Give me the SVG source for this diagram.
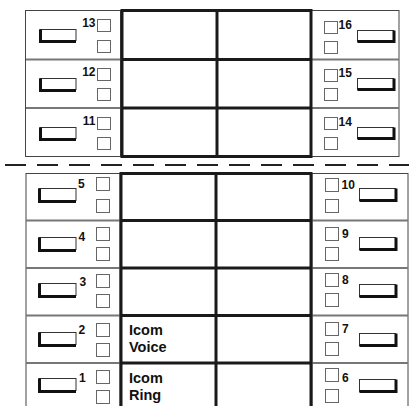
<svg xmlns="http://www.w3.org/2000/svg" width="409" height="406" viewBox="0 0 409 406">
<style>
.side{fill:#fff;stroke:#444;stroke-width:1}
.sep{stroke:#777;stroke-width:2;fill:none}
.thick{stroke:#1a1a1a;stroke-width:3;fill:none}
.sq{fill:#fff;stroke:#666;stroke-width:1}
.btn{fill:#fff;stroke:#333;stroke-width:1}
.sh{fill:none;stroke:#111;stroke-width:3}
.num{font-family:"Liberation Sans",Arial,sans-serif;font-weight:bold;font-size:12px;fill:#111}
.lbl{font-family:"Liberation Sans",Arial,sans-serif;font-weight:bold;font-size:14.5px;fill:#111}
.dash{stroke:#222;stroke-width:2;stroke-dasharray:21 11;fill:none}
</style>
<rect width="409" height="406" fill="#fff"/>

<!-- side boxes -->
<g id="frames">
<rect class="side" x="25.5" y="10.5" width="95" height="146"/>
<line class="sep" x1="26" y1="59.5" x2="120" y2="59.5"/>
<line class="sep" x1="26" y1="108" x2="120" y2="108"/>
<rect class="side" x="311.5" y="10.5" width="87.5" height="146"/>
<line class="sep" x1="312" y1="59.5" x2="399" y2="59.5"/>
<line class="sep" x1="312" y1="108" x2="399" y2="108"/>
<rect class="side" x="26" y="173.5" width="94" height="240"/>
<line class="sep" x1="26" y1="220.5" x2="120" y2="220.5"/>
<line class="sep" x1="26" y1="268" x2="120" y2="268"/>
<line class="sep" x1="26" y1="315.5" x2="120" y2="315.5"/>
<line class="sep" x1="26" y1="363" x2="120" y2="363"/>
<rect class="side" x="312" y="173.5" width="96" height="240"/>
<line class="sep" x1="312" y1="220.5" x2="408" y2="220.5"/>
<line class="sep" x1="312" y1="268" x2="408" y2="268"/>
<line class="sep" x1="312" y1="315.5" x2="408" y2="315.5"/>
<line class="sep" x1="312" y1="363" x2="408" y2="363"/>
</g>

<!-- center grids -->
<g id="center-top">
<rect class="thick" x="122" y="10.5" width="189" height="146"/>
<line class="thick" x1="122" y1="59.5" x2="311" y2="59.5"/>
<line class="thick" x1="122" y1="108" x2="311" y2="108"/>
<line class="thick" x1="217" y1="10.5" x2="217" y2="156.5"/>
</g>
<g id="center-bottom">
<line class="thick" x1="121" y1="172" x2="121" y2="410"/>
<line class="thick" x1="216" y1="172" x2="216" y2="410"/>
<line class="thick" x1="311" y1="172" x2="311" y2="410"/>
<line class="thick" x1="121" y1="173.5" x2="311" y2="173.5"/>
<line class="thick" x1="121" y1="220.5" x2="311" y2="220.5"/>
<line class="thick" x1="121" y1="268" x2="311" y2="268"/>
<line class="thick" x1="121" y1="315.5" x2="311" y2="315.5"/>
<line class="thick" x1="121" y1="363" x2="311" y2="363"/>
<text class="lbl"><tspan x="129" y="335">Icom</tspan><tspan x="129" y="351.5">Voice</tspan></text>
<text class="lbl"><tspan x="129" y="383">Icom</tspan><tspan x="129" y="399.5">Ring</tspan></text>
</g>

<g id="connectors">
<line class="dash" x1="5" y1="165" x2="409" y2="165"/>
</g>

<!-- left top rows -->
<g id="key13"><rect class="btn" x="40" y="29.5" width="36" height="11"/><path class="sh" d="M40.5 29.5V41.5H76"/><text class="num" x="95.5" y="27" text-anchor="end">13</text><rect class="sq" x="97.5" y="19.5" width="13" height="12"/><rect class="sq" x="97.5" y="40.5" width="13" height="12"/></g>
<g id="key12"><rect class="btn" x="40" y="78.5" width="36" height="11"/><path class="sh" d="M40.5 78.5V90.5H76"/><text class="num" x="95.5" y="76" text-anchor="end">12</text><rect class="sq" x="97.5" y="68.5" width="13" height="12"/><rect class="sq" x="97.5" y="88.5" width="13" height="12"/></g>
<g id="key11"><rect class="btn" x="40" y="127.5" width="36" height="11"/><path class="sh" d="M40.5 127.5V139.5H76"/><text class="num" x="95.5" y="125" text-anchor="end">11</text><rect class="sq" x="97.5" y="117.5" width="13" height="12"/><rect class="sq" x="97.5" y="137.5" width="13" height="12"/></g>

<!-- right top rows -->
<g id="key16"><rect class="sq" x="324.5" y="21.5" width="13" height="12"/><rect class="sq" x="324.5" y="41.5" width="13" height="12"/><text class="num" x="338.5" y="28.5">16</text><rect class="btn" x="357.5" y="30.5" width="36" height="11"/><path class="sh" d="M357.5 41.5H394V30.5"/></g>
<g id="key15"><rect class="sq" x="324.5" y="69.5" width="13" height="12"/><rect class="sq" x="324.5" y="88.5" width="13" height="12"/><text class="num" x="338.5" y="76.5">15</text><rect class="btn" x="357.5" y="78.5" width="36" height="11"/><path class="sh" d="M357.5 89.5H394V78.5"/></g>
<g id="key14"><rect class="sq" x="324.5" y="117.5" width="13" height="12"/><rect class="sq" x="324.5" y="137.5" width="13" height="12"/><text class="num" x="338.5" y="125.5">14</text><rect class="btn" x="357.5" y="127.5" width="36" height="11"/><path class="sh" d="M357.5 138.5H394V127.5"/></g>

<!-- left bottom rows -->
<g id="key5"><rect class="btn" x="39" y="188.5" width="37" height="12"/><path class="sh" d="M39.5 188.5V201.5H76"/><text class="num" x="78" y="187.5">5</text><rect class="sq" x="96.5" y="177.5" width="13" height="13"/><rect class="sq" x="96.5" y="199.5" width="13" height="13"/></g>
<g id="key4"><rect class="btn" x="39" y="237.5" width="37" height="12"/><path class="sh" d="M39.5 237.5V250.5H76"/><text class="num" x="78.5" y="240.5">4</text><rect class="sq" x="96.5" y="227.5" width="13" height="13"/><rect class="sq" x="96.5" y="247.5" width="13" height="13"/></g>
<g id="key3"><rect class="btn" x="39" y="283.5" width="37" height="12"/><path class="sh" d="M39.5 283.5V296.5H76"/><text class="num" x="79.5" y="285.5">3</text><rect class="sq" x="96.5" y="274.5" width="13" height="13"/><rect class="sq" x="96.5" y="294.5" width="13" height="13"/></g>
<g id="key2"><rect class="btn" x="39" y="332.5" width="37" height="12"/><path class="sh" d="M39.5 332.5V345.5H76"/><text class="num" x="78.5" y="333.5">2</text><rect class="sq" x="96.5" y="323.5" width="13" height="13"/><rect class="sq" x="96.5" y="343.5" width="13" height="13"/></g>
<g id="key1"><rect class="btn" x="39" y="378.5" width="37" height="12"/><path class="sh" d="M39.5 378.5V391.5H76"/><text class="num" x="79" y="381.5">1</text><rect class="sq" x="96.5" y="370.5" width="13" height="13"/><rect class="sq" x="96.5" y="390.5" width="13" height="13"/></g>

<!-- right bottom rows -->
<g id="key10"><rect class="sq" x="325.5" y="178.5" width="13" height="13"/><rect class="sq" x="325.5" y="199.5" width="13" height="13"/><text class="num" x="341.5" y="188.5">10</text><rect class="btn" x="359.5" y="188.5" width="36" height="12"/><path class="sh" d="M359.5 200.5H396V188.5"/></g>
<g id="key9"><rect class="sq" x="325.5" y="227.5" width="13" height="13"/><rect class="sq" x="325.5" y="247.5" width="13" height="13"/><text class="num" x="342" y="237.5">9</text><rect class="btn" x="359.5" y="237.5" width="36" height="12"/><path class="sh" d="M359.5 249.5H396V237.5"/></g>
<g id="key8"><rect class="sq" x="325.5" y="273.5" width="13" height="13"/><rect class="sq" x="325.5" y="293.5" width="13" height="13"/><text class="num" x="342" y="283.5">8</text><rect class="btn" x="359.5" y="284.5" width="36" height="12"/><path class="sh" d="M359.5 296.5H396V284.5"/></g>
<g id="key7"><rect class="sq" x="325.5" y="322.5" width="13" height="13"/><rect class="sq" x="325.5" y="342.5" width="13" height="13"/><text class="num" x="342" y="332.5">7</text><rect class="btn" x="359.5" y="333.5" width="36" height="12"/><path class="sh" d="M359.5 345.5H396V333.5"/></g>
<g id="key6"><rect class="sq" x="325.5" y="368.5" width="13" height="13"/><rect class="sq" x="325.5" y="389.5" width="13" height="13"/><text class="num" x="342" y="381.5">6</text><rect class="btn" x="359.5" y="379.5" width="36" height="12"/><path class="sh" d="M359.5 391.5H396V379.5"/></g>
</svg>
